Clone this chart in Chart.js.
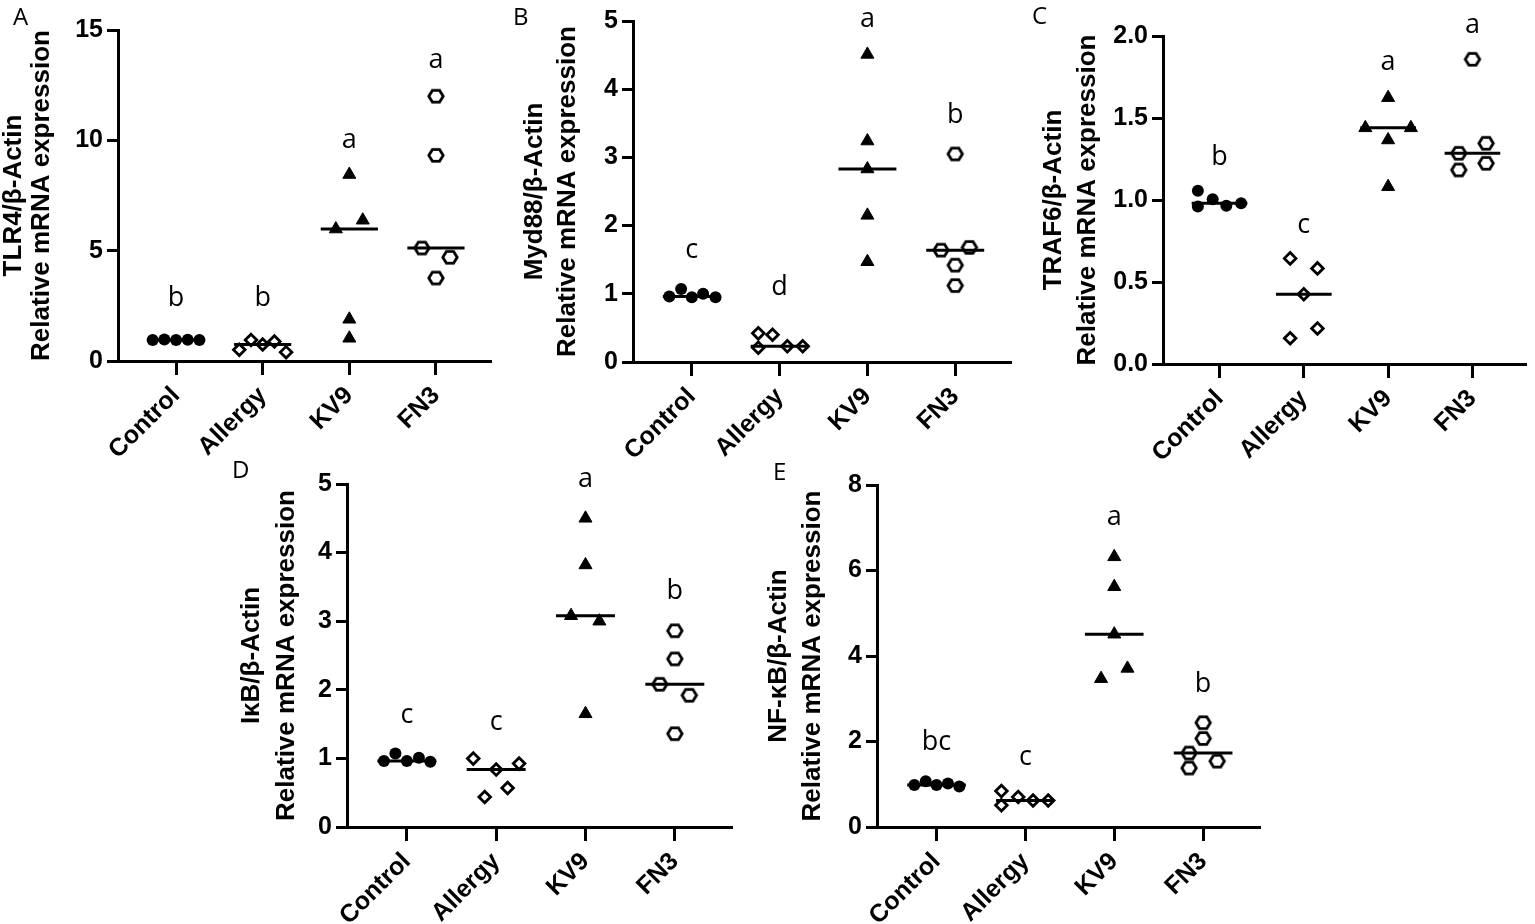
<!DOCTYPE html>
<html>
<head>
<meta charset="utf-8">
<script src="https://cdn.jsdelivr.net/npm/chart.js@4.4.0/dist/chart.umd.min.js"></script>
<style>
  html, body { margin: 0; padding: 0; background: #fff; }
  body { width: 1535px; height: 924px; position: relative; overflow: hidden; }
  .panel { position: absolute; }
</style>
</head>
<body>
<div class="panel" style="left:0px;top:0px"><canvas id="chartA" width="500" height="470"></canvas></div>
<div class="panel" style="left:510px;top:0px"><canvas id="chartB" width="510" height="470"></canvas></div>
<div class="panel" style="left:1028px;top:0px"><canvas id="chartC" width="507" height="470"></canvas></div>
<div class="panel" style="left:228px;top:455px"><canvas id="chartD" width="517" height="469"></canvas></div>
<div class="panel" style="left:760px;top:455px"><canvas id="chartE" width="510" height="469"></canvas></div>
<script>
const groups = ['Control', 'Allergy', 'KV9', 'FN3'];

// A - TLR4 (values per group: Control, Allergy, KV9, FN3)
const tlr4Values = [[0.95, 0.97, 0.95, 0.96, 0.95], [0.51, 0.95, 0.75, 0.88, 0.40], [5.98, 8.45, 6.38, 1.89, 1.03], [12.0, 9.32, 5.12, 4.70, 3.76]];
const tlr4Spread = [[-2, -1, 0, 1, 2], [-2, -1, 0, 1, 2], [-1.15, 0, 1.15, 0, 0], [0, 0, -1.2, 1.2, 0]];
const tlr4Letters = ['b', 'b', 'a', 'a'];
const tlr4LetterY = [2.47, 2.47, 9.67, 13.26];

// B - Myd88
const myd88Values = [[0.96, 1.07, 0.95, 1.0, 0.95], [0.42, 0.40, 0.21, 0.23, 0.23], [4.51, 3.24, 2.83, 2.15, 1.47], [3.05, 1.64, 1.68, 1.42, 1.12]];
const myd88Spread = [[-1.9, -0.9, 0, 0.95, 2], [-1.8, -0.6, -1.8, 0.65, 1.95], [0, 0, 0, 0, 0], [0, -1.2, 1.2, 0, 0]];
const myd88Letters = ['c', 'd', 'a', 'b'];
const myd88LetterY = [1.53, 0.98, 4.91, 3.50];

// C - TRAF6
const traf6Values = [[1.057, 0.96, 1.004, 0.965, 0.98], [0.644, 0.583, 0.425, 0.157, 0.217], [1.624, 1.44, 1.44, 1.366, 1.081], [1.858, 1.346, 1.285, 1.224, 1.183]];
const traf6Spread = [[-1.9, -1.9, -0.6, 0.6, 1.9], [-1.2, 1.2, 0, -1.2, 1.2], [0, -2, 2, 0, 0], [0, 1.2, -1.2, 1.2, -1.2]];
const traf6Letters = ['b', 'c', 'a', 'a'];
const traf6LetterY = [1.213, 0.797, 1.793, 2.016];

// D - IkB
const ikbValues = [[0.963, 1.07, 0.963, 1.01, 0.95], [0.997, 0.837, 0.924, 0.438, 0.569], [4.50, 3.82, 3.08, 3.0, 1.65], [2.86, 2.45, 2.08, 1.92, 1.36]];
const ikbSpread = [[-1.9, -0.95, 0, 1, 1.95], [-1.9, 0, 1.9, -0.95, 0.95], [0, 0, -1.2, 1.15, 0], [0, 0, -1.25, 1.2, 0]];
const ikbLetters = ['c', 'c', 'a', 'b'];
const ikbLetterY = [1.51, 1.41, 4.96, 3.33];

// E - NF-kB
const nfkbValues = [[0.98, 1.07, 0.98, 1.02, 0.95], [0.84, 0.51, 0.70, 0.62, 0.62], [6.32, 5.62, 4.51, 3.71, 3.47], [2.44, 2.07, 1.73, 1.38, 1.54]];
const nfkbSpread = [[-1.85, -0.9, 0, 0.95, 1.9], [-2, -2, -0.6, 0.64, 1.9], [0, 0, 0, 1.1, -1.1], [0, 0, -1.17, -1.17, 1.17]];
const nfkbLetters = ['bc', 'c', 'a', 'b'];
const nfkbLetterY = [1.80, 1.44, 7.07, 3.16];

Chart.defaults.font.family = '"Liberation Sans", Arial, sans-serif';
Chart.defaults.color = '#000';

const SLOT = 0.135;     // side-by-side step between points, category units
const HALF_LINE = 0.33; // half width of the median line

function median(arr) {
  const s = [...arr].sort((a, b) => a - b);
  return s[Math.floor(s.length / 2)];
}

// hollow hexagon marker for FN3
function hexMarker() {
  const c = document.createElement('canvas');
  c.width = 20; c.height = 17;
  const ctx = c.getContext('2d');
  ctx.lineWidth = 2.8;
  ctx.strokeStyle = '#000';
  ctx.beginPath();
  ctx.moveTo(2.8, 8.5); ctx.lineTo(6.4, 2.7); ctx.lineTo(13.6, 2.7);
  ctx.lineTo(17.2, 8.5); ctx.lineTo(13.6, 14.3); ctx.lineTo(6.4, 14.3);
  ctx.closePath();
  ctx.stroke();
  return c;
}
const hex = hexMarker();

const markers = [
  { pointStyle: 'circle', pointRadius: 6, backgroundColor: '#000', borderColor: '#000', borderWidth: 0 },
  { pointStyle: 'rectRot', pointRadius: 5.8, backgroundColor: 'rgba(0,0,0,0)', borderColor: '#000', borderWidth: 2.8 },
  { pointStyle: 'triangle', pointRadius: 7.5, backgroundColor: '#000', borderColor: '#000', borderWidth: 1 },
  { pointStyle: hex, pointRadius: 7, backgroundColor: 'rgba(0,0,0,0)', borderColor: '#000', borderWidth: 0 }
];

// significance letters over groups + panel letter
const letterPlugin = {
  id: 'groupLetters',
  afterDraw(chart, args, opts) {
    const { ctx, scales: { x, y } } = chart;
    ctx.save();
    ctx.fillStyle = '#000';
    ctx.textBaseline = 'alphabetic';
    ctx.textAlign = 'center';
    ctx.font = '27px "Open Sans"';
    opts.letters.forEach((t, i) => ctx.fillText(t, x.getPixelForValue(i + 1), y.getPixelForValue(opts.at[i])));
    ctx.textAlign = 'left';
    ctx.font = '24px "Open Sans"';
    ctx.fillText(opts.panel, opts.panelX, opts.panelY);
    ctx.restore();
  }
};

function makePanel(id, cfg) {
  const datasets = [];
  cfg.values.forEach((vals, g) => {
    datasets.push(Object.assign({
      data: vals.map((v, k) => ({ x: g + 1 + cfg.spread[g][k] * SLOT, y: v }))
    }, markers[g]));
  });
  cfg.values.forEach((vals, g) => {
    const m = median(vals);
    datasets.push({
      data: [{ x: g + 1 - HALF_LINE, y: m }, { x: g + 1 + HALF_LINE, y: m }],
      showLine: true, borderColor: '#000', borderWidth: 3, pointRadius: 0
    });
  });

  new Chart(document.getElementById(id), {
    type: 'scatter',
    data: { datasets },
    options: {
      responsive: false,
      animation: false,
      layout: { padding: { left: 0, top: cfg.padTop, right: cfg.padRight, bottom: 0 } },
      plugins: {
        legend: { display: false },
        tooltip: { enabled: false },
        groupLetters: { letters: cfg.letters, at: cfg.letterY, panel: cfg.panel, panelX: cfg.panelX, panelY: cfg.panelY }
      },
      scales: {
        x: {
          type: 'linear', min: 0.33, max: 4.64,
          afterFit: s => { s.height = cfg.xHeight; },
          afterBuildTicks: s => { s.ticks = groups.map((g, i) => ({ value: i + 1 })); },
          ticks: {
            autoSkip: false, minRotation: 45, maxRotation: 45, padding: 6,
            font: { size: 25, weight: 'bold' },
            callback: v => groups[v - 1]
          },
          grid: { drawOnChartArea: false, tickLength: 14, tickWidth: 3, tickColor: '#000' },
          border: { width: 3, color: '#000' }
        },
        y: {
          min: 0, max: cfg.yMax,
          afterFit: s => { s.width = cfg.yWidth; },
          ticks: {
            stepSize: cfg.yStep, padding: 4,
            font: { size: 25, weight: 'bold' },
            callback: v => cfg.decimals ? v.toFixed(cfg.decimals) : v
          },
          grid: { drawOnChartArea: false, tickLength: 11, tickWidth: 3, tickColor: '#000' },
          border: { width: 3, color: '#000' },
          title: {
            display: true,
            text: [cfg.title, 'Relative mRNA expression'],
            padding: { top: cfg.titlePad, bottom: 0 },
            font: { size: 26, weight: 'bold', lineHeight: cfg.titleLH }
          }
        }
      }
    },
    plugins: [letterPlugin]
  });
}

makePanel('chartA', {
  values: tlr4Values, spread: tlr4Spread, letters: tlr4Letters, letterY: tlr4LetterY,
  title: 'TLR4/β-Actin', yMax: 15, yStep: 5, decimals: 0,
  padTop: 30, padRight: 7, yWidth: 118, xHeight: 109, titlePad: 0, titleLH: 1.08,
  panel: 'A', panelX: 13, panelY: 25
});
makePanel('chartB', {
  values: myd88Values, spread: myd88Spread, letters: myd88Letters, letterY: myd88LetterY,
  title: 'Myd88/β-Actin', yMax: 5, yStep: 1, decimals: 0,
  padTop: 21, padRight: 7, yWidth: 123, xHeight: 108, titlePad: 8, titleLH: 1.28,
  panel: 'B', panelX: 3, panelY: 25
});
makePanel('chartC', {
  values: traf6Values, spread: traf6Spread, letters: traf6Letters, letterY: traf6LetterY,
  title: 'TRAF6/β-Actin', yMax: 2, yStep: 0.5, decimals: 1,
  padTop: 36, padRight: 2, yWidth: 135, xHeight: 106, titlePad: 8, titleLH: 1.34,
  panel: 'C', panelX: 4, panelY: 24
});
makePanel('chartD', {
  values: ikbValues, spread: ikbSpread, letters: ikbLetters, letterY: ikbLetterY,
  title: 'IκB/β-Actin', yMax: 5, yStep: 1, decimals: 0,
  padTop: 29, padRight: 13, yWidth: 119, xHeight: 97, titlePad: 7, titleLH: 1.32,
  panel: 'D', panelX: 4, panelY: 23
});
makePanel('chartE', {
  values: nfkbValues, spread: nfkbSpread, letters: nfkbLetters, letterY: nfkbLetterY,
  title: 'NF-κB/β-Actin', yMax: 8, yStep: 2, decimals: 0,
  padTop: 30, padRight: 10, yWidth: 117, xHeight: 97, titlePad: 2, titleLH: 1.31,
  panel: 'E', panelX: 13, panelY: 25
});
</script>
</body>
</html>
